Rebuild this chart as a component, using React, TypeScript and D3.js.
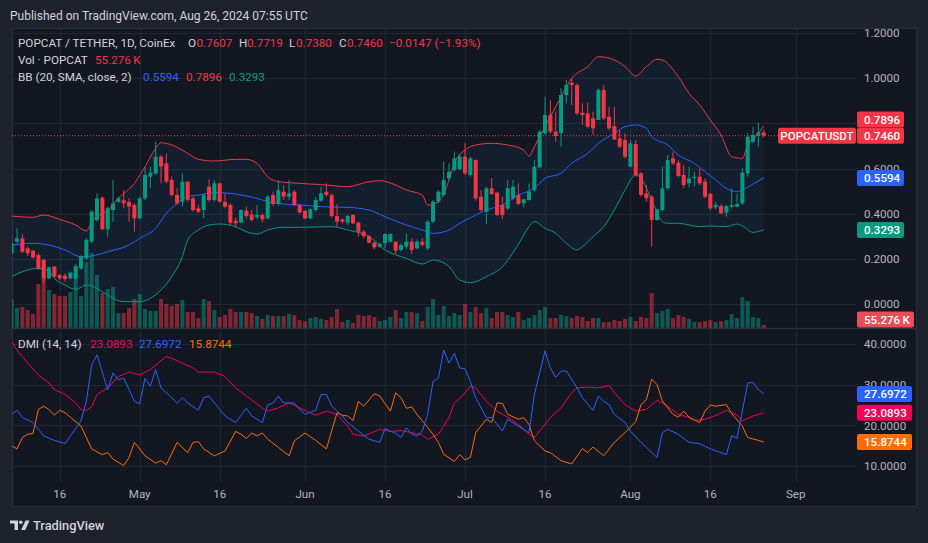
import React from 'react';
import * as d3 from 'd3';

// ---------- DATA ----------
const startDate = new Date(2024, 3, 7); // first candle: Apr 7, 2024 (daily)

const opens = [
  .2255,.2771,.2918,.2476,.2372,.2181,.1960,.1148,.1665,.1296,
  .1267,.1148,.1148,.1591,.2033,.2771,.3730,.4718,.3317,.4172,
  .4541,.4600,.4541,.4393,.3803,.4688,.5647,.5795,.6532,.6237,
  .5500,.4836,.4541,.5426,.4688,.4246,.4172,.5205,.4615,.5352,
  .4541,.4393,.3700,.3612,.4143,.3980,.3847,.3951,.3803,.4836,
  .4438,.4983,.4762,.4983,.4393,.4128,.3803,.4172,.4585,.4983,
  .4836,.3906,.3759,.3612,.3951,.3612,.3213,.3022,.2727,.2550,
  .2697,.2771,.2771,.2402,.2550,.2771,.2476,.2771,.2476,.3656,
  .4541,.4836,.5573,.5942,.5972,.6532,.5721,.6385,.4762,.4098,
  .5131,.4939,.4393,.4246,.4688,.4836,.4467,.4615,.5057,.6060,
  .7565,.8376,.7638,.7565,.9261,.9807,.9703,.8479,.8450,.8228,
  .8155,.9482,.8302,.7889,.7343,.7270,.6090,.7093,.5795,.4910,
  .4762,.3730,.4172,.5131,.6458,.6267,.5721,.5352,.5588,.5647,
  .5426,.4880,.4290,.4349,.4054,.4320,.4320,.4467,.5795,.7196,
  .7447,.7607,
];
const highs = [
  .3066,.3361,.3110,.2550,.2402,.2255,.2033,.1665,.1694,.1340,
  .1370,.1443,.1768,.2181,.2918,.4172,.4910,.4762,.4320,.5500,
  .4762,.5057,.4688,.4467,.4762,.6090,.6090,.7196,.6606,.6680,
  .5647,.5131,.5795,.5450,.4762,.4393,.4910,.5529,.5500,.5382,
  .4910,.4467,.3847,.4202,.4320,.4172,.4393,.4025,.4836,.4983,
  .5500,.5278,.5500,.5057,.4467,.4172,.4246,.4762,.5205,.5352,
  .4910,.4438,.3803,.3951,.3995,.3656,.3287,.3066,.2771,.2727,
  .3140,.3140,.2800,.2697,.3140,.2918,.2874,.2918,.3730,.4615,
  .5057,.6311,.6237,.6753,.6650,.7122,.6532,.6414,.5057,.5205,
  .5573,.4983,.4762,.5500,.5500,.5352,.4688,.5352,.6385,.7712,
  .9187,.9040,.8523,.9556,.9925,.9998,.9777,.8892,.8922,.8523,
  .9556,.9703,.8745,.8745,.7712,.7565,.7270,.7270,.5868,.5278,
  .4836,.4246,.6090,.6606,.6753,.6385,.6163,.6090,.5868,.6016,
  .5573,.4939,.4541,.4438,.4393,.5131,.4910,.6016,.7565,.7860,
  .8036,.7719,
];
const lows = [
  .2225,.2697,.2255,.2137,.2033,.1517,.0927,.1104,.1180,.1074,
  .1001,.1104,.1074,.1517,.1960,.2697,.3656,.3287,.2992,.3656,
  .4467,.4246,.3656,.3213,.3759,.4615,.5131,.5721,.5352,.5352,
  .4762,.4393,.4320,.4541,.4098,.4025,.3803,.4541,.4541,.4497,
  .4246,.3508,.3405,.3582,.3803,.3656,.3759,.3612,.3759,.4349,
  .4349,.4615,.4615,.4349,.4025,.3759,.3759,.4098,.4541,.4762,
  .3847,.3435,.3582,.3508,.3553,.2992,.2918,.2697,.2432,.2505,
  .2476,.2727,.2225,.2328,.2432,.2225,.2432,.2550,.2402,.3582,
  .4467,.4762,.5500,.5868,.5942,.5721,.5647,.4585,.4098,.3553,
  .4836,.3906,.3759,.4172,.4615,.4393,.4290,.4585,.4983,.6016,
  .7491,.7565,.7196,.6975,.8892,.8818,.8376,.7933,.7786,.7491,
  .8155,.8155,.7712,.7270,.6901,.6458,.6060,.5647,.4762,.4541,
  .2550,.3700,.4098,.5057,.6163,.5617,.5131,.5175,.5205,.5278,
  .4688,.4172,.4202,.3995,.3877,.4246,.4290,.4393,.5647,.7122,
  .6975,.7380,
];
const closes = [
  .2697,.2918,.2328,.2255,.2077,.1591,.1148,.1635,.1222,.1148,
  .1119,.1399,.1694,.2107,.2845,.4098,.4688,.3317,.4246,.4467,
  .4688,.4467,.4320,.3803,.4688,.5721,.5824,.6532,.6090,.5426,
  .4836,.4467,.5426,.4615,.4172,.4098,.4836,.4615,.5352,.4541,
  .4320,.3612,.3582,.4172,.3906,.3730,.3951,.3759,.4762,.4438,
  .5057,.4762,.4910,.4393,.4054,.3803,.4202,.4615,.4910,.4836,
  .3906,.3656,.3656,.3906,.3582,.3213,.3022,.2727,.2520,.2667,
  .3110,.3110,.2372,.2623,.2771,.2402,.2771,.2623,.3656,.4541,
  .4983,.5500,.5868,.6458,.6532,.5795,.6458,.4688,.4172,.5131,
  .4880,.3951,.3951,.5131,.5205,.4438,.4644,.4983,.6090,.7638,
  .8376,.7638,.7447,.9261,.9703,.9703,.8450,.8376,.7860,.7786,
  .9482,.8228,.7786,.7299,.6975,.6532,.7122,.5721,.4836,.4688,
  .3730,.4202,.5131,.6385,.6237,.5677,.5278,.5573,.5647,.5352,
  .4762,.4246,.4393,.4025,.4349,.4393,.4438,.5824,.7417,.7491,
  .7607,.7460,
];
// volume, thousands of POPCAT
const volumesK = [
  534,368,386,331,258,810,1251,699,626,589,
  589,662,1012,589,1214,1380,975,644,718,754,
  276,276,368,534,626,350,313,313,534,442,
  405,442,515,294,294,184,534,497,331,202,
  239,350,294,294,294,276,221,166,239,221,
  221,221,258,239,147,129,184,202,166,147,
  202,350,110,147,92,239,221,239,202,129,
  147,202,331,184,294,294,276,129,386,534,
  239,405,221,276,239,442,294,386,276,368,
  184,294,294,239,202,294,147,184,239,331,
  386,184,184,239,221,184,221,202,129,184,
  184,110,110,147,129,166,202,129,202,184,
  644,276,313,350,184,239,202,166,110,110,
  129,147,110,129,147,258,184,570,497,202,
  184,55.276,
];

// Bollinger Bands (20, SMA, close, 2): [day index, value]
const bbUpper: [number, number][] = [
  [0,.3906],[4,.3847],[6,.3951],[9,.3759],[12,.3508],[14,.3243],[15,.3656],[18,.4172],[20,.4688],[23,.5352],
  [25,.6090],[27,.6901],[28,.7151],[30,.7048],[33,.6680],[35,.6414],[38,.6340],[42,.6414],[44,.6414],[46,.6237],
  [48,.5647],[50,.5426],[52,.5382],[54,.5352],[59,.5278],[63,.5205],[67,.5426],[69,.5470],[72,.5278],[74,.5057],
  [77,.4836],[78,.4393],[80,.4541],[82,.5500],[83,.6237],[85,.6827],[87,.7048],[90,.7122],[93,.7048],[96,.6827],
  [97,.6560],[98,.6975],[100,.7860],[103,.9187],[105,1.0000],[108,1.0515],[110,1.0957],[113,1.0810],[115,1.0515],[117,1.0102],
  [119,1.0515],[121,1.0839],[122,1.0810],[125,1.0072],[127,.9335],[129,.8818],[131,.8155],[133,.7491],[135,.6532],[137,.6458],
  [138,.7049],[140,.7565],[141,.7896],
];
const bbBasis: [number, number][] = [
  [0,.2623],[4,.2697],[7,.2623],[10,.2402],[13,.2107],[15,.2137],[18,.2328],[22,.2623],[24,.2918],[27,.3361],
  [29,.4025],[31,.4467],[33,.4762],[35,.4836],[38,.4939],[41,.4910],[43,.4836],[46,.4688],[48,.4541],[51,.4438],
  [54,.4393],[58,.4320],[63,.4290],[67,.4172],[70,.3877],[74,.3508],[77,.3287],[79,.3140],[82,.3287],[84,.3582],
  [87,.3951],[89,.4172],[92,.4393],[95,.4836],[98,.5131],[100,.5573],[103,.5795],[105,.6237],[108,.6680],[110,.7122],
  [113,.7565],[115,.7860],[117,.7933],[119,.7786],[120,.7417],[123,.7048],[125,.6606],[128,.6237],[130,.5868],[132,.5500],
  [134,.5131],[136,.4983],[137,.5057],[139,.5323],[141,.5594],
];
const bbLower: [number, number][] = [
  [0,.1222],[2,.1443],[5,.1591],[7,.1443],[8,.1148],[10,.0853],[12,.0661],[14,.0853],[17,.0558],[19,.0263],
  [21,.0115],[24,.0115],[26,.0263],[28,.0632],[30,.1222],[32,.2107],[33,.2845],[35,.3287],[37,.3508],[39,.3553],
  [42,.3435],[44,.3213],[46,.3110],[48,.3287],[51,.3405],[54,.3405],[60,.3435],[63,.3287],[67,.2992],[70,.2402],
  [74,.2033],[77,.1783],[79,.1960],[82,.1665],[84,.1074],[86,.0956],[89,.1222],[92,.1665],[95,.2650],[97,.3435],
  [98,.3657],[100,.3361],[102,.3140],[104,.2697],[106,.2402],[107,.2550],[109,.2992],[111,.3435],[113,.4172],[115,.5057],
  [117,.5721],[118,.5573],[120,.4615],[122,.3657],[123,.3583],[125,.3583],[129,.3435],[131,.3465],[134,.3435],[136,.3553],
  [137,.3465],[139,.3184],[141,.3293],
];

// DMI (14, 14): [day index, value]
const adx: [number, number][] = [
  [0,40.6],[1,38.5],[3,35.3],[5,32.4],[7,30.4],[8,28.8],[10,27.6],[12,25.5],[13,23.9],[14,23.6],
  [15,24.6],[16,27.6],[18,29.2],[20,32.0],[22,33.1],[24,32.4],[26,33.7],[28,35.9],[29,36.9],[30,36.5],
  [32,35.3],[34,34.1],[35,33.1],[38,33.1],[40,32.0],[42,29.2],[44,27.2],[47,24.3],[48,23.5],[50,24.3],
  [52,25.5],[54,24.3],[57,22.5],[59,23.5],[61,22.7],[63,19.8],[64,17.8],[66,17.4],[69,19.0],[71,18.5],
  [73,18.7],[75,18.2],[77,17.6],[78,16.6],[80,17.8],[82,21.9],[83,25.5],[85,28.0],[86,29.6],[87,29.2],
  [89,25.9],[91,23.5],[93,22.0],[95,20.2],[97,17.8],[98,17.0],[99,18.6],[101,21.9],[103,24.3],[105,28.0],
  [106,29.2],[108,29.4],[110,29.2],[112,29.8],[113,28.0],[115,25.1],[117,23.5],[119,23.9],[121,26.2],[123,24.7],
  [125,22.7],[127,21.9],[128,21.2],[130,21.5],[132,22.4],[134,23.7],[136,22.5],[137,21.1],[139,22.3],[141,23.0893],
];
const plusDI: [number, number][] = [
  [0,22.7],[1,23.7],[2,21.9],[4,20.7],[6,17.4],[8,16.3],[10,15.5],[11,17.4],[13,21.1],[14,25.9],
  [15,34.9],[16,37.3],[18,28.8],[19,32.9],[20,31.2],[21,31.6],[22,28.8],[23,25.9],[24,25.3],[25,31.6],
  [26,29.6],[27,33.7],[28,29.2],[30,26.8],[31,25.4],[32,26.8],[33,25.5],[35,23.7],[36,26.8],[37,27.2],
  [39,23.9],[40,22.3],[42,20.7],[44,24.2],[45,22.3],[47,20.7],[48,25.0],[49,25.5],[50,27.2],[51,25.5],
  [53,25.5],[54,23.9],[55,22.7],[57,23.7],[58,27.6],[59,27.6],[60,24.7],[62,22.3],[63,20.7],[65,18.6],
  [67,16.6],[69,15.8],[70,19.2],[71,18.6],[72,18.0],[73,17.0],[74,19.4],[75,17.8],[76,17.4],[77,18.6],
  [78,22.7],[79,30.8],[80,31.6],[81,38.5],[82,35.3],[83,37.7],[84,34.1],[85,33.9],[86,30.8],[87,26.8],
  [89,21.9],[90,21.9],[92,18.6],[93,21.5],[95,19.8],[97,18.2],[98,27.6],[100,38.3],[101,34.1],[102,31.8],
  [103,33.3],[104,33.4],[106,29.2],[107,26.8],[109,23.7],[110,27.2],[111,25.9],[112,25.1],[113,22.7],[115,20.7],
  [116,18.6],[118,15.8],[119,14.6],[121,12.1],[122,18.2],[123,19.0],[125,17.8],[127,15.8],[129,15.5],[131,14.2],
  [133,13.3],[134,12.8],[135,17.4],[136,16.8],[138,30.4],[139,30.6],[140,28.8],[141,27.6972],
];
const minusDI: [number, number][] = [
  [0,15.0],[1,14.2],[2,17.0],[3,17.8],[4,18.0],[5,23.9],[6,24.7],[7,23.9],[8,22.5],[9,23.7],
  [10,23.1],[11,22.0],[13,19.8],[14,17.0],[15,14.2],[17,12.8],[18,13.3],[19,11.7],[21,10.1],[22,12.1],
  [23,15.8],[24,14.2],[25,12.5],[27,10.7],[28,11.3],[29,10.3],[31,15.8],[33,13.3],[34,15.8],[35,16.0],
  [36,14.2],[38,12.5],[40,13.7],[42,18.5],[43,17.8],[44,16.8],[45,18.1],[46,17.4],[47,18.1],[48,16.6],
  [50,14.6],[52,12.5],[53,16.2],[55,18.1],[57,16.3],[59,14.2],[61,23.1],[62,22.5],[63,22.3],[64,21.2],
  [65,25.9],[66,24.7],[68,27.8],[69,27.2],[71,23.5],[72,28.0],[73,26.8],[74,24.2],[75,24.5],[76,22.7],
  [77,21.1],[79,17.8],[80,15.8],[81,12.9],[83,11.1],[84,12.8],[85,11.5],[86,12.1],[87,18.2],[89,21.5],
  [90,20.7],[91,25.5],[92,25.4],[93,22.7],[95,21.5],[96,21.9],[97,20.2],[98,16.2],[100,13.7],[101,13.3],
  [103,11.3],[105,10.5],[107,14.3],[108,13.3],[109,14.7],[111,12.5],[113,15.8],[115,18.2],[117,20.9],[118,25.1],
  [119,26.3],[120,31.4],[121,30.0],[122,26.0],[124,22.7],[125,22.0],[126,23.5],[127,22.0],[129,20.7],[130,23.5],
  [131,25.0],[132,24.7],[134,25.1],[135,22.9],[137,19.8],[138,17.0],[140,16.3],[141,15.8744],
];

const timeTicks: [string, string][] = [
  ['2024-04-16','16'],['2024-05-01','May'],['2024-05-16','16'],['2024-06-01','Jun'],['2024-06-16','16'],
  ['2024-07-01','Jul'],['2024-07-16','16'],['2024-08-01','Aug'],['2024-08-16','16'],['2024-09-01','Sep'],
];
const priceTicks = [0, 0.2, 0.4, 0.6, 0.8, 1.0, 1.2];
const dmiTicks = [10, 20, 30, 40];

// ---------- STYLE ----------
const C = {
  outer: '#1e222d',
  bg: '#131722',
  border: '#2a2e39',
  grid: '#232734',
  text: '#d1d4dc',
  axis: '#b2b5be',
  up: '#089981',
  down: '#f23645',
  upVol: 'rgba(8,153,129,0.5)',
  downVol: 'rgba(242,54,69,0.5)',
  blue: '#2962ff',
  adx: '#f50057',
  orange: '#ff6d00',
};
const FONT = 'Roboto, "Noto Sans", "DejaVu Sans", sans-serif';

export default function App() {
  const W = 928, H = 543;
  const frame = { x0: 12, y0: 28, x1: 917, y1: 507 };
  const plotRight = 856;
  const mainBottom = 328;
  const dmiTop = 330, dmiBottom = 482;

  const day = (i: number) => d3.timeDay.offset(startDate, i);
  const parse = d3.timeParse('%Y-%m-%d');
  const last = closes.length - 1;

  const x = d3.scaleTime().domain([startDate, day(last)]).range([11.7, 763.7]);
  const yP = d3.scaleLinear().domain([0, 1.2]).range([304.3, 33.1]);
  const yV = d3.scaleLinear().domain([0, 1500]).range([mainBottom, mainBottom - 81.5]);
  const yD = d3.scaleLinear().domain([10, 40]).range([466, 344]);
  const fmt4 = d3.format('.4f');

  const bbLine = d3.line<[number, number]>().x(d => x(day(d[0]))).y(d => yP(d[1])).curve(d3.curveMonotoneX);
  const dmiLine = d3.line<[number, number]>().x(d => x(day(d[0]))).y(d => yD(d[1]));

  const upperPath = bbLine(bbUpper) || '';
  const lowerRevPath = (bbLine([...bbLower].reverse()) || '').replace(/^M/, 'L');
  const fillPath = upperPath + lowerRevPath + 'Z';

  const bw = 4;
  const candles = closes.map((c, i) => {
    const o = opens[i];
    const up = c >= o;
    const cx = x(day(i));
    const yTop = yP(Math.max(o, c));
    const yBot = yP(Math.min(o, c));
    return { i, cx, up, yTop, h: Math.max(1, yBot - yTop), yH: yP(highs[i]), yL: yP(lows[i]) };
  });

  const lastClose = closes[last];
  const lastY = yP(lastClose);
  const upperVal = bbUpper[bbUpper.length - 1][1];
  const basisVal = bbBasis[bbBasis.length - 1][1];
  const lowerVal = bbLower[bbLower.length - 1][1];
  const boxH = 16;
  const upperY = Math.min(yP(upperVal), lastY - boxH - 0.3);

  // tick labels that are fully hidden behind the last-value boxes are not drawn
  const hiddenByBoxes = (yc: number) =>
    yc > upperY - boxH / 2 + 3 && yc < lastY + boxH / 2 - 3;

  const priceBox = (yc: number, color: string, label: string, w = 47, key?: string) => (
    <g key={key || label}>
      <rect x={857} y={yc - boxH / 2} width={w} height={boxH} rx={2} fill={color} />
      <text x={857 + 7} y={yc} dy="0.36em" fill="#ffffff" fontSize={11.6} fontWeight={500}>{label}</text>
    </g>
  );

  return (
    <svg width={W} height={H} style={{ position: 'absolute', left: 0, top: 0, display: 'block' }} fontFamily={FONT}>
      <defs>
        <clipPath id="mainClip"><rect x={frame.x0} y={frame.y0} width={plotRight - frame.x0} height={mainBottom - frame.y0} /></clipPath>
        <clipPath id="dmiClip"><rect x={frame.x0} y={dmiTop} width={plotRight - frame.x0} height={dmiBottom - dmiTop} /></clipPath>
      </defs>
      <rect x={0} y={0} width={W} height={H} fill={C.outer} />
      <text x={10} y={19.5} fill={C.text} fontSize={12}>Published on TradingView.com, Aug 26, 2024 07:55 UTC</text>

      <rect x={frame.x0 + 0.5} y={frame.y0 + 0.5} width={frame.x1 - frame.x0 - 1} height={frame.y1 - frame.y0 - 1} fill={C.bg} stroke={C.border} strokeWidth={1} />

      {/* grid */}
      <g stroke={C.grid} strokeWidth={1}>
        {timeTicks.map(([d]) => {
          const gx = Math.round(x(parse(d) as Date)) + 0.5;
          return (
            <g key={'vg' + d}>
              <line x1={gx} x2={gx} y1={frame.y0 + 1} y2={mainBottom} />
              <line x1={gx} x2={gx} y1={dmiTop} y2={dmiBottom} />
            </g>
          );
        })}
        {priceTicks.map(t => {
          const gy = Math.round(yP(t)) + 0.5;
          return <line key={'pg' + t} x1={frame.x0 + 1} x2={plotRight} y1={gy} y2={gy} />;
        })}
        {dmiTicks.map(t => {
          const gy = Math.round(yD(t)) + 0.5;
          return <line key={'dg' + t} x1={frame.x0 + 1} x2={plotRight} y1={gy} y2={gy} />;
        })}
      </g>

      {/* main pane */}
      <g clipPath="url(#mainClip)">
        {candles.map(c => {
          const vy = yV(volumesK[c.i]);
          return <rect key={'v' + c.i} x={c.cx - bw / 2} y={vy} width={bw} height={mainBottom - vy} fill={c.up ? C.upVol : C.downVol} />;
        })}
        <path d={fillPath} fill="rgba(33,150,243,0.06)" stroke="none" />
        <path d={upperPath} fill="none" stroke={C.down} strokeWidth={1} />
        <path d={bbLine(bbBasis) || ''} fill="none" stroke={C.blue} strokeWidth={1} />
        <path d={bbLine(bbLower) || ''} fill="none" stroke={C.up} strokeWidth={1} />
        {candles.map(c => (
          <g key={'c' + c.i} fill={c.up ? C.up : C.down}>
            <rect x={c.cx - 0.5} y={c.yH} width={1} height={Math.max(1, c.yL - c.yH)} />
            <rect x={c.cx - bw / 2} y={c.yTop} width={bw} height={c.h} />
          </g>
        ))}
        <line x1={frame.x0} x2={plotRight} y1={lastY} y2={lastY} stroke={C.down} strokeWidth={1} strokeDasharray="1 2" />
      </g>

      {/* pane separator */}
      <line x1={frame.x0} x2={frame.x1} y1={mainBottom + 0.5} y2={mainBottom + 0.5} stroke={C.border} strokeWidth={1.5} />

      {/* DMI pane */}
      <g clipPath="url(#dmiClip)" fill="none" strokeWidth={1}>
        <path d={dmiLine(adx) || ''} stroke={C.adx} />
        <path d={dmiLine(minusDI) || ''} stroke={C.orange} />
        <path d={dmiLine(plusDI) || ''} stroke={C.blue} />
      </g>

      {/* price axis */}
      <g fill={C.axis} fontSize={11.6}>
        {priceTicks.filter(t => !hiddenByBoxes(yP(t))).map(t => (
          <text key={'pt' + t} x={864} y={yP(t)} dy="0.36em">{fmt4(t)}</text>
        ))}
        {dmiTicks.map(t => (
          <text key={'dt' + t} x={864} y={yD(t)} dy="0.36em">{fmt4(t)}</text>
        ))}
      </g>

      {/* time axis */}
      <g fill={C.axis} fontSize={11.6} textAnchor="middle">
        {timeTicks.map(([d, lab]) => (
          <text key={'tt' + d} x={x(parse(d) as Date)} y={498}>{lab}</text>
        ))}
      </g>

      {/* price labels */}
      {priceBox(upperY, C.down, fmt4(upperVal), 47, 'bbU')}
      <g>
        <rect x={778} y={lastY - boxH / 2} width={78} height={boxH} rx={2} fill={C.down} />
        <text x={817} y={lastY} dy="0.36em" textAnchor="middle" fill="#fff" fontSize={11.6} fontWeight={500}>POPCATUSDT</text>
      </g>
      {priceBox(lastY, C.down, fmt4(lastClose), 47, 'last')}
      {priceBox(yP(basisVal), C.blue, fmt4(basisVal), 47, 'bbB')}
      {priceBox(yP(lowerVal), C.up, fmt4(lowerVal), 47, 'bbL')}
      {priceBox(319.5, '#e84e59', '55.276\u2009K', 57, 'vol')}
      {priceBox(yD(plusDI[plusDI.length - 1][1]), C.blue, fmt4(plusDI[plusDI.length - 1][1]), 55, 'pdi')}
      {priceBox(yD(adx[adx.length - 1][1]), C.adx, fmt4(adx[adx.length - 1][1]), 55, 'adx')}
      {priceBox(yD(minusDI[minusDI.length - 1][1]), C.orange, fmt4(minusDI[minusDI.length - 1][1]), 55, 'mdi')}

      {/* legends */}
      <g fontSize={11.7}>
        <text x={18} y={46.5} fill={C.text}>POPCAT / TETHER, 1D, CoinEx</text>
        <text x={188} y={46.5} fill={C.text}>O</text>
        <text x={196.5} y={46.5} fill={C.down}>{fmt4(opens[last])}</text>
        <text x={239} y={46.5} fill={C.text}>H</text>
        <text x={247} y={46.5} fill={C.down}>{fmt4(highs[last])}</text>
        <text x={289} y={46.5} fill={C.text}>L</text>
        <text x={296} y={46.5} fill={C.down}>{fmt4(lows[last])}</text>
        <text x={339} y={46.5} fill={C.text}>C</text>
        <text x={347} y={46.5} fill={C.down}>{fmt4(lastClose)}</text>
        <text x={389} y={46.5} fill={C.down}>−0.0147 (−1.93%)</text>

        <text x={18} y={63.5} fill={C.text}>Vol · POPCAT</text>
        <text x={95} y={63.5} fill={C.down}>55.276{'\u2009'}K</text>

        <text x={18} y={80.5} fill={C.text}>BB (20, SMA, close, 2)</text>
        <text x={143} y={80.5} fill={C.blue}>{fmt4(basisVal)}</text>
        <text x={186} y={80.5} fill={C.down}>{fmt4(upperVal)}</text>
        <text x={229} y={80.5} fill={C.up}>{fmt4(lowerVal)}</text>

        <text x={18} y={348} fill={C.text}>DMI (14, 14)</text>
        <text x={90} y={348} fill={C.adx}>{fmt4(adx[adx.length - 1][1])}</text>
        <text x={139} y={348} fill={C.blue}>{fmt4(plusDI[plusDI.length - 1][1])}</text>
        <text x={189} y={348} fill={C.orange}>{fmt4(minusDI[minusDI.length - 1][1])}</text>
      </g>

      {/* footer logo */}
      <g fill={C.text}>
        <path d="M10 520.5 H18 V530 H14.5 V523.5 H10 Z" />
        <circle cx={20.8} cy={522.3} r={1.8} />
        <path d="M25.5 520.5 H29.5 L25.2 530 H21.2 Z" />
        <text x={33} y={529.5} fontSize={12.8} fontWeight={500}>TradingView</text>
      </g>
    </svg>
  );
}
